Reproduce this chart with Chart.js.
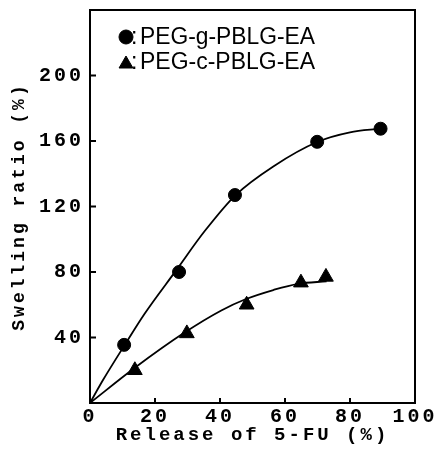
<!DOCTYPE html>
<html><head><meta charset="utf-8">
<script src="https://cdn.jsdelivr.net/npm/chart.js@4.4.1/dist/chart.umd.min.js"></script>
<style>html,body{margin:0;padding:0;background:#fff}#wrap{width:443px;height:456px;position:relative}</style>
</head><body><div id="wrap"><canvas id="c" width="443" height="456"></canvas></div>
<script>
const seriesLabels = ['PEG-g-PBLG-EA', 'PEG-c-PBLG-EA'];
const gX = [10.5, 27.4, 44.6, 69.9, 89.4];
const gY = [35.5, 80, 127, 159.5, 167.5];
const cX = [13.8, 29.8, 48.2, 64.9, 72.6];
const cY = [20, 42.5, 60, 73.5, 77];
const gCurveX = [0, 4, 10.7, 16.8, 26.5, 35.3, 44.8, 56.4, 69.9, 80, 89.4];
const gCurveY = [0, 14, 35.5, 54.5, 81, 105, 127, 144.5, 159.4, 165.3, 167.5];
const cCurveX = [0, 13.8, 29.1, 40.4, 48, 56.4, 64, 72.8];
const cCurveY = [0, 21.5, 43, 56.5, 63.5, 69, 72.8, 74.3];
const xTicks = [0, 20, 40, 60, 80, 100];
const yTicks = [40, 80, 120, 160, 200];
const xTitle = 'Release of 5-FU (%)';
const yTitle = 'Swelling ratio (%)';

const pts = (xs, ys) => xs.map((x, i) => ({x: x, y: ys[i]}));

const framePlugin = {
  id: 'frame',
  beforeUpdate(chart) { chart.ctx.letterSpacing = '3px'; },
  beforeDraw(chart) { chart.ctx.letterSpacing = '3px'; },
  beforeDatasetsDraw(chart) {
    const {ctx, chartArea: a, scales: {x, y}} = chart;
    ctx.save();
    ctx.strokeStyle = '#000';
    ctx.lineWidth = 2;
    ctx.strokeRect(a.left, a.top, a.right - a.left, a.bottom - a.top);
    ctx.beginPath();
    x.ticks.forEach(t => {
      if (t.value > 0 && t.value < 100) {
        const px = x.getPixelForValue(t.value);
        ctx.moveTo(px, a.bottom); ctx.lineTo(px, a.bottom - 5);
      }
    });
    y.ticks.forEach(t => {
      if (yTicks.includes(t.value)) {
        const py = y.getPixelForValue(t.value);
        ctx.moveTo(a.left, py); ctx.lineTo(a.left + 6, py);
      }
    });
    ctx.stroke();
    ctx.restore();
  },
  afterDraw(chart) {
    const ctx = chart.ctx;
    ctx.save();
    ctx.letterSpacing = '0px';
    const rows = [
      {ds: chart.data.datasets[0], y: 37},
      {ds: chart.data.datasets[1], y: 62}
    ];
    rows.forEach(r => {
      ctx.fillStyle = '#000';
      ctx.strokeStyle = '#000';
      const tri = r.ds.pointStyle === 'triangle';
      Chart.helpers.drawPoint(ctx, {
        pointStyle: r.ds.pointStyle, radius: tri ? 8 : 7, borderWidth: 1, rotation: 0
      }, 126, tri ? r.y + 2 : r.y);
      ctx.font = '23px "Liberation Sans", Arial, sans-serif';
      ctx.textBaseline = 'middle';
      ctx.textAlign = 'left';
      ctx.fillText(':', 131, r.y + 1);
      const w = ctx.measureText(r.ds.label).width;
      const sx = 175 / w;
      ctx.save();
      ctx.translate(140, r.y + 1);
      ctx.scale(sx, 1);
      ctx.fillText(r.ds.label, 0, 0);
      ctx.restore();
    });
    ctx.restore();
    ctx.letterSpacing = '3px';
  }
};

new Chart(document.getElementById('c'), {
  type: 'scatter',
  data: {
    datasets: [
      {label: seriesLabels[0], data: pts(gX, gY), pointStyle: 'circle', pointRadius: 6.5,
       backgroundColor: '#000', borderColor: '#000', showLine: false},
      {label: seriesLabels[1], data: pts(cX, cY), pointStyle: 'triangle', pointRadius: 8.5,
       backgroundColor: '#000', borderColor: '#000', showLine: false},
      {label: 'fit g', data: pts(gCurveX, gCurveY), showLine: true, pointRadius: 0,
       borderColor: '#000', borderWidth: 1.8, cubicInterpolationMode: 'monotone', fill: false},
      {label: 'fit c', data: pts(cCurveX, cCurveY), showLine: true, pointRadius: 0,
       borderColor: '#000', borderWidth: 1.8, cubicInterpolationMode: 'monotone', fill: false}
    ]
  },
  options: {
    responsive: false,
    animation: false,
    devicePixelRatio: 1,
    layout: {padding: {left: 0, right: 28, top: 10, bottom: 0}},
    plugins: {legend: {display: false}, tooltip: {enabled: false}},
    scales: {
      x: {
        type: 'linear', min: 0, max: 100,
        grid: {display: false, drawTicks: false},
        border: {display: false},
        ticks: {
          stepSize: 20, padding: 4, color: '#000', maxRotation: 0, autoSkip: false,
          font: {family: '"Liberation Mono", monospace', size: 20, weight: 'bold', lineHeight: 1},
          callback: v => xTicks.includes(v) ? String(v) : ''
        },
        title: {display: true, text: xTitle, color: '#000', padding: {top: 0, bottom: 9},
          font: {family: '"Liberation Mono", monospace', size: 19, weight: 'bold'}},
        afterFit: s => { s.height = 53; }
      },
      y: {
        type: 'linear', min: 0, max: 240,
        grid: {display: false, drawTicks: false},
        border: {display: false},
        ticks: {
          stepSize: 40, padding: 6, color: '#000', autoSkip: false,
          font: {family: '"Liberation Mono", monospace', size: 20, weight: 'bold', lineHeight: 1},
          callback: v => yTicks.includes(v) ? String(v) : ''
        },
        title: {display: true, text: yTitle, color: '#000', padding: {top: 9, bottom: 9},
          font: {family: '"Liberation Mono", monospace', size: 18, weight: 'bold'}},
        afterFit: s => { s.width = 90; s.paddingTop = 0; s.paddingBottom = 0; }
      }
    }
  },
  plugins: [framePlugin]
});
</script></body></html>
